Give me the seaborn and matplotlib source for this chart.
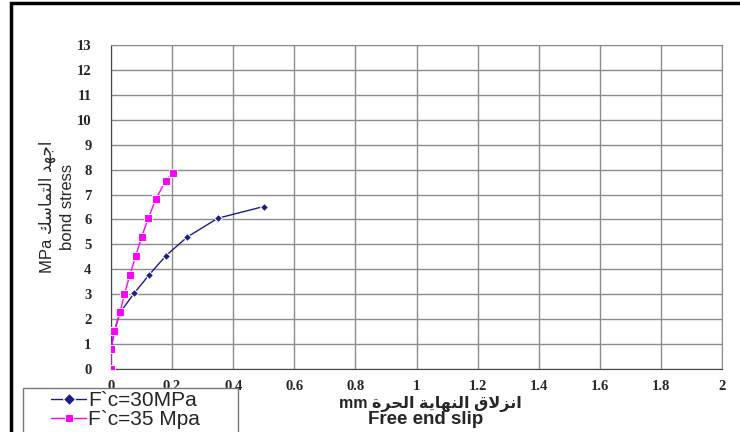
import numpy as np
import pandas as pd
import matplotlib
matplotlib.use('Agg')
import matplotlib.pyplot as plt
import seaborn as sns
from matplotlib.patches import Rectangle

# data
slip_30 = [0, 0, 0.01, 0.03, 0.075, 0.125, 0.18, 0.25, 0.35, 0.5]
stress_30 = [0, 0.75, 1.5, 2.27, 3.03, 3.78, 4.55, 5.3, 6.05, 6.52]
slip_35 = [0, 0, 0.011, 0.03, 0.044, 0.062, 0.081, 0.10, 0.122, 0.147, 0.179, 0.202]
stress_35 = [0, 0.79, 1.53, 2.28, 3.01, 3.78, 4.54, 5.29, 6.05, 6.82, 7.56, 7.88]
series = ['F`c=30MPa', 'F`c=35 Mpa']
xticks = [0, 0.2, 0.4, 0.6, 0.8, 1, 1.2, 1.4, 1.6, 1.8, 2]
xticklabels = ['0', '0.2', '0.4', '0.6', '0.8', '1', '1.2', '1.4', '1.6', '1.8', '2']
yticks = list(range(14))

# arabic words in visual order, presentation forms (no shaping in matplotlib)
w_slip = '\uFED5\uFEFB\uFEB0\uFEE7\uFE8D'            # انزلاق
w_end = '\uFE94\uFEF3\uFE8E\uFEEC\uFEE8\uFEDF\uFE8D'  # النهاية
w_free = '\uFE93\uFEAE\uFEA4\uFEDF\uFE8D'             # الحرة
w_bond = '\uFEDA\uFEB3\uFE8E\uFEE4\uFE98\uFEDF\uFE8D'  # التماسك
w_stress = '\uFEAA\uFEEC\uFE9F\uFE8D'                 # اجهد

df = pd.concat([
    pd.DataFrame({'slip': slip_30, 'stress': stress_30, 'mix': series[0]}),
    pd.DataFrame({'slip': slip_35, 'stress': stress_35, 'mix': series[1]}),
])

sns.set_style('white')
fam = ['Liberation Sans', 'DejaVu Sans']
plt.rcParams['font.family'] = fam

W, H = 740, 432
fig = plt.figure(figsize=(7.4, 4.32), dpi=100)
ax = fig.add_axes([111/W, 1-369/H, (722-111)/W, (369-45)/H])

sns.lineplot(data=df, x='slip', y='stress', hue='mix', style='mix',
             palette=['#1c1c8a', '#ff00ff'], markers=['D', 's'], dashes=False,
             sort=False, estimator=None, linewidth=1, ax=ax)
lines = ax.get_lines()
lines[0].set_markersize(4)
lines[1].set_markersize(6)
lines[1].set_zorder(3)

ax.set_xlim(0, 2)
ax.set_ylim(0, 13)
tick_font = dict(family=['Liberation Serif', 'DejaVu Serif'], fontweight='bold', fontsize=10.5)
ax.set_xticks(xticks)
ax.set_xticklabels(xticklabels, **tick_font)
ax.set_yticks(yticks)
ax.set_yticklabels([str(t) for t in yticks], **tick_font)
ax.grid(True, color='#8c8c8c', linewidth=1)
ax.tick_params(axis='both', direction='out', length=5, width=0.8, color='#666666')
ax.tick_params(axis='x', pad=3)
ax.tick_params(axis='y', pad=9)
for s in ax.spines.values():
    s.set_color('#8c8c8c')
ax.spines['left'].set_color('#444444')
ax.spines['bottom'].set_color('#444444')

ax.set_ylabel('MPa ' + w_bond + ' ' + w_stress + '\nbond stress', fontsize=12,
              family=fam, labelpad=1, linespacing=1.35)
ax.set_xlabel('')
fig.text(430/W, 1-404/H, 'mm ' + w_free + ' ' + w_end + ' ' + w_slip, fontsize=11.5,
         family=fam, fontweight='bold', ha='center', va='center')
fig.text(426/W, 1-420/H, 'Free end slip', fontsize=13.5,
         family=fam, fontweight='bold', ha='center', va='center')

h, l = ax.get_legend_handles_labels()
ax.legend_.remove()
fig.legend(h, l, loc='center left', bbox_to_anchor=(51/W, 1-410/H),
           bbox_transform=fig.transFigure, fontsize=15, frameon=False,
           borderpad=0, labelspacing=0.0, handlelength=1.7, handletextpad=0.1,
           borderaxespad=0)
fig.patches.append(Rectangle((23/W, 1-433/H), (238-23)/W, (433-388)/H,
                             transform=fig.transFigure, fill=True, facecolor='white',
                             edgecolor='#777777', linewidth=1, zorder=2))

# outer frame of the picture
fig.patches.append(Rectangle((11/W, -0.1), 1.2, 1.1 - 3/H, transform=fig.transFigure,
                             fill=False, edgecolor='black', linewidth=2.5))

fig.savefig('out.png', dpi=100)
